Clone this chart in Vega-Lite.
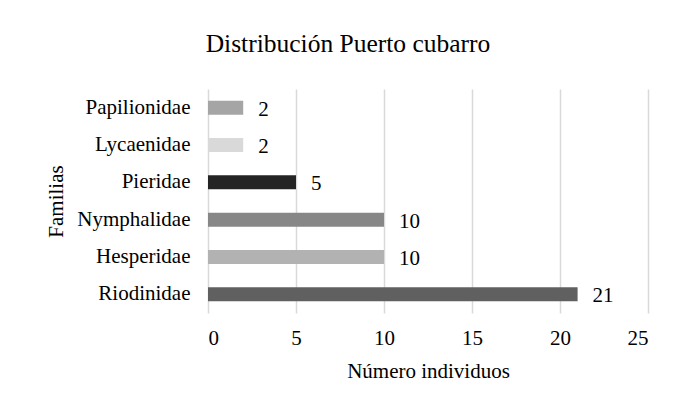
{
  "$schema": "https://vega.github.io/schema/vega-lite/v6.json",
  "autosize": {"type": "none"},
  "width": 440,
  "height": 224,
  "padding": {"left": 208, "top": 89, "right": 26, "bottom": 97},
  "background": "white",
  "config": {
    "font": "Times New Roman, Liberation Serif, serif",
    "view": {"stroke": null},
    "axis": {"labelFont": "Times New Roman, Liberation Serif, serif", "titleFont": "Times New Roman, Liberation Serif, serif", "labelColor": "#000000", "titleColor": "#000000", "titleFontWeight": "normal"}
  },
  "title": {
    "text": "Distribución Puerto cubarro",
    "font": "Times New Roman, Liberation Serif, serif",
    "fontSize": 25.5,
    "fontWeight": "normal",
    "color": "#000000",
    "anchor": "middle",
    "baseline": "alphabetic",
    "offset": 12,
    "dx": -80
  },
  "data": {
    "values": [
      {"familia": "Papilionidae", "n": 2},
      {"familia": "Lycaenidae", "n": 2},
      {"familia": "Pieridae", "n": 5},
      {"familia": "Nymphalidae", "n": 10},
      {"familia": "Hesperidae", "n": 10},
      {"familia": "Riodinidae", "n": 21}
    ]
  },
  "encoding": {
    "y": {
      "field": "familia",
      "type": "nominal",
      "sort": ["Papilionidae", "Lycaenidae", "Pieridae", "Nymphalidae", "Hesperidae", "Riodinidae"],
      "scale": {"paddingInner": 0.625, "paddingOuter": 0.3125},
      "axis": {
        "title": "Familias",
        "titleFontSize": 21,
        "titleX": -146,
        "titleY": 112,
        "titleAngle": -90,
        "titleAlign": "center",
        "titleBaseline": "alphabetic",
        "labelFontSize": 21,
        "labelPadding": 18,
        "ticks": false,
        "tickSize": 0,
        "domain": false,
        "grid": false
      }
    },
    "x": {
      "field": "n",
      "type": "quantitative",
      "scale": {"domain": [0, 25]},
      "axis": {
        "title": "Número individuos",
        "titleFontSize": 21,
        "titleX": 220,
        "titleY": 64,
        "titleAlign": "center",
        "titleBaseline": "alphabetic",
        "labelFontSize": 21,
        "labelBaseline": "alphabetic",
        "labelPadding": 31,
        "values": [0, 5, 10, 15, 20, 25],
        "ticks": false,
        "tickSize": 0,
        "domain": false,
        "grid": true,
        "gridColor": "#d9d9d9",
        "gridWidth": 1.5
      }
    }
  },
  "layer": [
    {
      "mark": {"type": "bar"},
      "encoding": {
        "color": {
          "field": "familia",
          "type": "nominal",
          "scale": {
            "domain": ["Papilionidae", "Lycaenidae", "Pieridae", "Nymphalidae", "Hesperidae", "Riodinidae"],
            "range": ["#a5a5a5", "#d9d9d9", "#242424", "#878787", "#b2b2b2", "#606060"]
          },
          "legend": null
        }
      }
    },
    {
      "mark": {"type": "text", "align": "left", "baseline": "middle", "dx": 15, "dy": 2, "fontSize": 21, "font": "Times New Roman, Liberation Serif, serif", "color": "#000000"},
      "encoding": {
        "text": {"field": "n", "type": "quantitative"}
      }
    }
  ]
}
